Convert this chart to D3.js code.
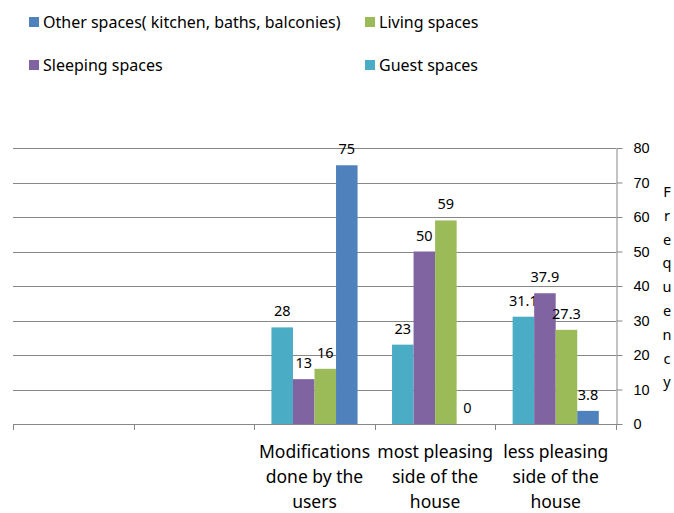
<!DOCTYPE html>
<html>
<head>
<meta charset="utf-8">
<script src="https://cdn.jsdelivr.net/npm/d3@7"></script>
<style>
  body { margin: 0; background: white; }
  svg { font-family: "Noto Sans", sans-serif; }
  .grid line { stroke: #878787; stroke-width: 1; }
  .axis path, .axis line { stroke: #878787; }
  .axis text { font-size: 14.5px; fill: #000; }
  .leg_text { font-size: 16px; fill: #000; }
  .cat_text { font-size: 17.5px; fill: #000; }
  .val_text { font-size: 14.5px; fill: #000; }
</style>
</head>
<body>
<script>

// categories on the x-axis (first two slots are empty in the original)
var categories = [
  [],
  [],
  ["Modifications", "done by the", "users"],
  ["most pleasing", "side of the", "house"],
  ["less pleasing", "side of the", "house"]
];

// series, in the order the bars are drawn inside a group
var seriesNames = ["Guest spaces", "Sleeping spaces", "Living spaces", "Other spaces( kitchen, baths, balconies)"];
var seriesColors = ["#4BACC6", "#8064A2", "#9BBB59", "#4F81BD"];

var guestValues = [null, null, 28, 23, 31.1];
var sleepingValues = [null, null, 13, 50, 37.9];
var livingValues = [null, null, 16, 59, 27.3];
var otherValues = [null, null, 75, 0, 3.8];

var yTicks = [0, 10, 20, 30, 40, 50, 60, 70, 80];
var yTitle = "Frequency";

// legend order as in the picture (two rows, two columns)
var legendOrder = [3, 2, 1, 0];

window.onload = function() {
  var series = [guestValues, sleepingValues, livingValues, otherValues];
  drawChart(series);
};

function drawChart(series) {

  var w = 674;
  var h = 513;
  var margin = {top: 148, right: 58, bottom: 89, left: 13};

  var svg = d3.select("body")
              .append("svg")
              .attr("width", w)
              .attr("height", h);

  // scales
  var xScale = d3.scaleBand()
                 .domain(d3.range(categories.length))
                 .range([margin.left, w - margin.right])
                 .padding(0);

  var band = xScale.bandwidth();
  var outer = band * 0.8 / 5.6;
  var xInner = d3.scaleBand()
                 .domain(d3.range(series.length))
                 .range([outer, band - outer])
                 .padding(0);

  var yScale = d3.scaleLinear()
                 .domain([0, 80])
                 .range([h - margin.bottom, margin.top]);

  // horizontal gridlines
  svg.append("g")
     .attr("class", "grid")
     .selectAll("line")
     .data(yTicks.slice(1))
     .enter().append("line")
     .attr("x1", margin.left)
     .attr("x2", w - margin.right)
     .attr("y1", function(d) { return Math.round(yScale(d)) + 0.5; })
     .attr("y2", function(d) { return Math.round(yScale(d)) + 0.5; });

  // bars
  var groups = svg.selectAll(".serie")
                  .data(series)
                  .enter().append("g")
                  .attr("class", "serie")
                  .style("fill", function(d, i) { return seriesColors[i]; });

  groups.each(function(values, s) {
    var data = [];
    values.forEach(function(v, c) {
      if (v != null) {
        data.push({cat: c, value: v, serie: s});
      }
    });

    d3.select(this).selectAll("rect")
      .data(data)
      .enter().append("rect")
      .attr("x", function(d) { return xScale(d.cat) + xInner(d.serie); })
      .attr("y", function(d) { return yScale(d.value); })
      .attr("width", xInner.bandwidth())
      .attr("height", function(d) { return yScale(0) - yScale(d.value); });

    // value labels above the bars
    d3.select(this).selectAll("text")
      .data(data)
      .enter().append("text")
      .attr("class", "val_text")
      .attr("x", function(d) { return xScale(d.cat) + xInner(d.serie) + xInner.bandwidth() / 2; })
      .attr("y", function(d) { return yScale(d.value) - 11; })
      .style("text-anchor", "middle")
      .text(function(d) { return d.value; });
  });

  // right y-axis
  svg.append("g")
     .attr("class", "axis")
     .attr("transform", "translate(" + (w - margin.right + 0.5) + ", 0)")
     .call(d3.axisRight(yScale)
             .tickValues(yTicks)
             .tickSize(6)
             .tickSizeOuter(0)
             .tickPadding(11));

  // x-axis line
  svg.append("line")
     .attr("x1", margin.left)
     .attr("x2", w - margin.right)
     .attr("y1", Math.round(yScale(0)) + 0.5)
     .attr("y2", Math.round(yScale(0)) + 0.5)
     .style("stroke", "#878787");

  // tick marks between categories
  var boundaries = d3.range(categories.length).map(function(d) { return xScale(d); });
  boundaries.push(w - margin.right);
  svg.selectAll(".xtick")
     .data(boundaries)
     .enter().append("line")
     .attr("class", "xtick")
     .attr("x1", function(d) { return Math.round(d) + 0.5; })
     .attr("x2", function(d) { return Math.round(d) + 0.5; })
     .attr("y1", yScale(0))
     .attr("y2", yScale(0) + 6)
     .style("stroke", "#878787");

  // category labels (wrapped on three lines)
  categories.forEach(function(lines, c) {
    svg.selectAll(".cat" + c)
       .data(lines)
       .enter().append("text")
       .attr("class", "cat_text")
       .attr("x", xScale(c) + band / 2)
       .attr("y", function(d, i) { return 458 + i * 25; })
       .style("text-anchor", "middle")
       .text(function(d) { return d; });
  });

  // y-axis title, one letter under the other
  svg.selectAll(".ytitle")
     .data(yTitle.split(""))
     .enter().append("text")
     .attr("class", "ytitle")
     .attr("x", 667)
     .attr("y", function(d, i) { return 197 + i * 23.8; })
     .style("text-anchor", "middle")
     .style("font-size", "14.5px")
     .text(function(d) { return d; });

  // legend
  var legendPos = [[29, 17], [365, 17], [29, 60], [365, 60]];
  legendOrder.forEach(function(s, i) {
    svg.append("rect")
       .attr("x", legendPos[i][0])
       .attr("y", legendPos[i][1])
       .attr("width", 10)
       .attr("height", 10)
       .style("fill", seriesColors[s]);

    svg.append("text")
       .attr("class", "leg_text")
       .attr("x", legendPos[i][0] + 14)
       .attr("y", legendPos[i][1] + 11)
       .text(seriesNames[s]);
  });
}

</script>
</body>
</html>
